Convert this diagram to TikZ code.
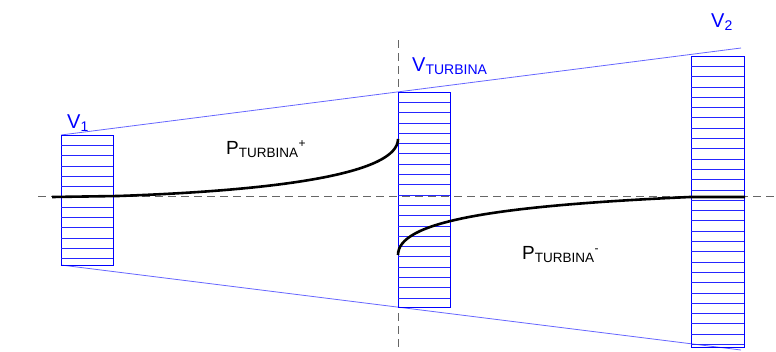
\documentclass[tikz,border=0pt]{standalone}
\usepackage{fontspec}
\setmainfont{Liberation Sans}
\begin{document}
\begin{tikzpicture}[x=1pt,y=-1pt,
  axis/.style={gray!80!black,dashed,dash pattern=on 8pt off 5pt,line width=0.8pt},
  funnel/.style={blue!60,line width=0.8pt},
  vbox/.style={draw=blue,line width=0.9pt},
  hatch/.style={blue!85,line width=0.8pt},
  curve/.style={black,line width=2.6pt},
  vlab/.style={text=blue,font=\fontsize{20}{20}\selectfont,inner sep=0pt},
  plab/.style={text=black,font=\fontsize{19}{19}\selectfont,inner sep=0pt}]
\useasboundingbox (0,0) rectangle (776,351);
% axes
\coordinate (hL) at (38,196);
\coordinate (hR) at (776,196);
\coordinate (vT) at (398,40);
\coordinate (vB) at (398,351);
\draw[axis] (hL) -- (hR);
\draw[axis] (vT) -- (vB);
% funnel
\coordinate (t1) at (61,135);
\coordinate (t2) at (741,48);
\coordinate (b1) at (61,265);
\coordinate (b2) at (741,350);
\draw[funnel] (t1) -- (t2);
\draw[funnel] (b1) -- (b2);
% boxes
\node[vbox,inner sep=0pt,minimum width=52pt,minimum height=130pt,anchor=north west] (box1) at (61,135) {};
\node[vbox,inner sep=0pt,minimum width=52pt,minimum height=215pt,anchor=north west] (box2) at (398,92) {};
\node[vbox,inner sep=0pt,minimum width=53pt,minimum height=291pt,anchor=north west] (box3) at (691,56) {};
\foreach \i in {1,...,12} \draw[hatch] (61,135+\i*10.3) -- (113,135+\i*10.3);
\foreach \i in {1,...,20} \draw[hatch] (398,92+\i*10.3) -- (450,92+\i*10.3);
\foreach \i in {1,...,28} \draw[hatch] (691,56+\i*10.3) -- (744,56+\i*10.3);
% curves
\coordinate (c0) at (52,197);
\coordinate (c1) at (118,196);
\coordinate (c2) at (398,139);
\coordinate (d0) at (398,255);
\coordinate (d1) at (690,197);
\coordinate (d2) at (745,197);
\draw[curve] (c0) -- (c1) .. controls (290,190) and (398,172) .. (c2);
\draw[curve] (d0) .. controls (398,222) and (490,206) .. (d1) -- (d2);
% labels
\node[vlab,anchor=base west] (lv1) at (67,128) {V\textsubscript{\fontsize{14}{14}\selectfont 1}};
\node[vlab,anchor=base west] (lv2) at (412,71) {V\textsubscript{\fontsize{14}{14}\selectfont TURBINA}};
\node[vlab,anchor=base west] (lv3) at (711,27) {V\textsubscript{\fontsize{14}{14}\selectfont 2}};
\node[plab,anchor=base west] (lp1) at (226,154) {P\textsubscript{\fontsize{13.5}{13.5}\selectfont TURBINA}\textsuperscript{\fontsize{12}{12}\selectfont +}};
\node[plab,anchor=base west] (lp2) at (522,259) {P\textsubscript{\fontsize{13.5}{13.5}\selectfont TURBINA}\textsuperscript{\fontsize{12}{12}\selectfont -}};
\end{tikzpicture}
\end{document}
